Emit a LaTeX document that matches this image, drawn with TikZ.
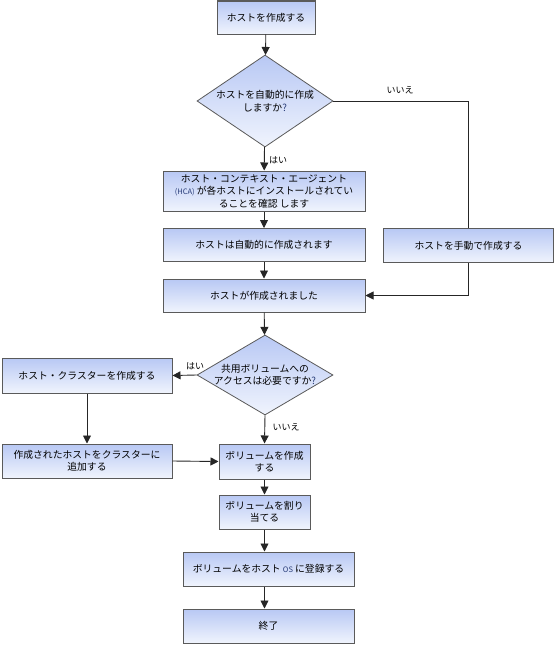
\documentclass[tikz,border=0pt]{standalone}
\usepackage{fontspec}
\setmainfont{Noto Sans CJK JP}
\usetikzlibrary{shapes.geometric,arrows.meta}
\definecolor{boxtop}{RGB}{184,200,244}
\definecolor{boxbot}{RGB}{240,244,253}
\definecolor{boxline}{RGB}{90,90,90}
\definecolor{latin}{RGB}{40,60,120}
\newcommand{\lat}[1]{{\fontsize{7.5}{12}\selectfont\textcolor{latin}{#1}}}
\begin{document}
\begin{tikzpicture}[x=1pt,y=-1pt,
  font=\fontsize{9.8}{12.5}\selectfont,
  box/.style={draw=boxline,line width=1pt,rectangle,top color=boxtop,bottom color=boxbot,align=center,inner sep=1pt},
  decision/.style={draw=boxline,line width=0.8pt,diamond,top color=boxtop,bottom color=boxbot,align=center,inner sep=-6pt},
  arr/.style={-{Triangle[length=8pt,width=8pt]},line width=0.9pt,draw=black!85},
  lbl/.style={inner sep=1pt,font=\fontsize{9}{11}\selectfont}]
\useasboundingbox (0,0) rectangle (556,645);
\node[box,minimum width=98pt,minimum height=33pt] (start) at (266,17.5) {ホストを作成する};
\node[decision,shape aspect=1.48,minimum width=136pt,minimum height=92pt] (q1) at (265,101) {ホストを自動的に作成\\しますか\textcolor{latin}{?}};
\node[box,minimum width=202pt,minimum height=40pt] (check) at (264,191) {ホスト・コンテキスト・エージェント\\\lat{(HCA)} が各ホストにインストールされてい\\ることを確認 します};
\node[box,minimum width=202pt,minimum height=33pt] (auto) at (264,245) {ホストは自動的に作成されます};
\node[box,minimum width=170pt,minimum height=34pt] (manual) at (468.5,245.5) {ホストを手動で作成する};
\node[box,minimum width=202pt,minimum height=33pt] (created) at (264,295.5) {ホストが作成されました};
\node[decision,shape aspect=1.7,minimum width=136pt,minimum height=80pt] (q2) at (265,375) {共用ボリュームへの\\アクセスは必要ですか\textcolor{latin}{?}};
\node[box,minimum width=170pt,minimum height=35pt] (cluster) at (87,375.5) {ホスト・クラスターを作成する};
\node[box,minimum width=170pt,minimum height=34pt] (addcl) at (87,461) {作成されたホストをクラスターに\\追加する};
\node[box,minimum width=91pt,minimum height=35pt] (vol) at (264.5,461.5) {ボリュームを作成\\する};
\node[box,minimum width=91pt,minimum height=34pt] (assign) at (264.5,512) {ボリュームを割り\\当てる};
\node[box,minimum width=171pt,minimum height=34pt] (register) at (268.5,569) {ボリュームをホスト \lat{OS} に登録する};
\node[box,minimum width=171pt,minimum height=34pt] (done) at (268.5,626) {終了};
% labels
\node[lbl] (yes1) at (278,160) {はい};
\node[lbl] (no1) at (400,90) {いいえ};
\node[lbl] (yes2) at (195,366) {はい};
\node[lbl] (no2) at (286,427) {いいえ};
% connectors
\draw[arr] (start) -- (q1);
\draw[arr] (q1) -- (check);
\draw[arr] (check) -- (auto);
\draw[arr] (auto) -- (created);
\draw[line width=0.9pt,draw=black!85] (q1.east) -| (manual.north);
\draw[arr] (manual.south) |- (created.east);
\draw[arr] (created) -- (q2);
\draw[arr] (q2.west) -- (cluster.east);
\draw[arr] (q2.south) -- (vol.north);
\draw[arr] (cluster) -- (addcl);
\draw[arr] (addcl.east) -- (vol.west);
\draw[arr] (vol) -- (assign);
\draw[arr] (assign.south) -- (assign.south |- register.north);
\draw[arr] (register.south -| assign.south) -- (assign.south |- done.north);
\end{tikzpicture}
\end{document}
